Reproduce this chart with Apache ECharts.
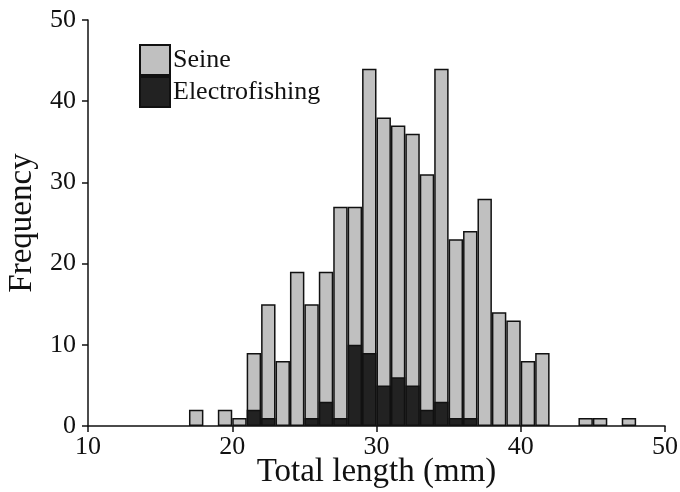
<!DOCTYPE html>
<html>
<head>
<meta charset="utf-8">
<script src="https://cdn.jsdelivr.net/npm/echarts@6/dist/echarts.min.js"></script>
<style>html,body{margin:0;padding:0;background:#fff}#c{width:680px;height:492px}</style>
</head>
<body>
<div id="c"></div>
<script>
// Bin start (mm) of each 1-mm bin
const binStarts = [10,11,12,13,14,15,16,17,18,19,20,21,22,23,24,25,26,27,28,29,30,31,32,33,34,35,36,37,38,39,40,41,42,43,44,45,46,47,48,49];
// Frequency (overall bar height, Seine)
const seine = [0,0,0,0,0,0,0,2,0,2,1,9,15,8,19,15,19,27,27,44,38,37,36,31,44,23,24,28,14,13,8,9,0,0,1,1,0,1,0,0];
// Frequency (Electrofishing)
const electro = [0,0,0,0,0,0,0,0,0,0,0,2,1,0,0,1,3,1,10,9,5,6,5,2,3,1,1,0,0,0,0,0,0,0,0,0,0,0,0,0];
const xTicks = [10,20,30,40,50];
const yTicks = [0,10,20,30,40,50];

const font = 'Liberation Serif, Times New Roman, serif';
const nz = a => a.map(v => v === 0 ? '-' : v);

const chart = echarts.init(document.getElementById('c'), null, {renderer:'canvas'});
chart.setOption({
  animation: false,
  backgroundColor: '#fff',
  grid: {left: 88, right: 15, top: 20, bottom: 66, containLabel: false, outerBoundsMode: 'none'},
  legend: {
    orient: 'vertical', left: 134, top: 39, itemGap: 0,
    itemWidth: 30, itemHeight: 30, icon: 'rect',
    textStyle: {fontFamily: font, fontSize: 26, color: '#111', padding: [4,0,0,-2]},
    data: ['Seine', 'Electrofishing']
  },
  xAxis: [
    {type: 'category', data: binStarts.map(String), show: false, boundaryGap: true},
    {type: 'value', min: xTicks[0], max: xTicks[xTicks.length-1], interval: 10, position: 'bottom',
     axisLine: {show: true, onZero: false, lineStyle: {color: '#111', width: 1.5}},
     axisTick: {show: true, length: 6, lineStyle: {color: '#111', width: 1.5}},
     axisLabel: {fontFamily: font, fontSize: 26, color: '#111', margin: 8},
     splitLine: {show: false},
     name: 'Total length (mm)', nameLocation: 'middle', nameGap: 30, nameMoveOverlap: false,
     nameTextStyle: {fontFamily: font, fontSize: 33, color: '#111'}}
  ],
  yAxis: {
    type: 'value', min: yTicks[0], max: yTicks[yTicks.length-1], interval: 10,
    axisLine: {show: true, lineStyle: {color: '#111', width: 1.5}},
    axisTick: {show: true, length: 6, lineStyle: {color: '#111', width: 1.5}},
    axisLabel: {fontFamily: font, fontSize: 26, color: '#111', margin: 12},
    splitLine: {show: false},
    name: 'Frequency', nameLocation: 'middle', nameGap: 49, nameMoveOverlap: false,
    nameTextStyle: {fontFamily: font, fontSize: 33, color: '#111'}
  },
  series: [
    {name: 'Seine', type: 'bar', xAxisIndex: 0, data: nz(seine), barWidth: '100%', barGap: '-100%',
     itemStyle: {color: '#c0c0c0', borderColor: '#111', borderWidth: 1.5}},
    {name: 'Electrofishing', type: 'bar', xAxisIndex: 0, data: nz(electro), barWidth: '100%', barGap: '-100%',
     itemStyle: {color: '#222', borderColor: '#111', borderWidth: 1.5}}
  ]
});
</script>
</body>
</html>
